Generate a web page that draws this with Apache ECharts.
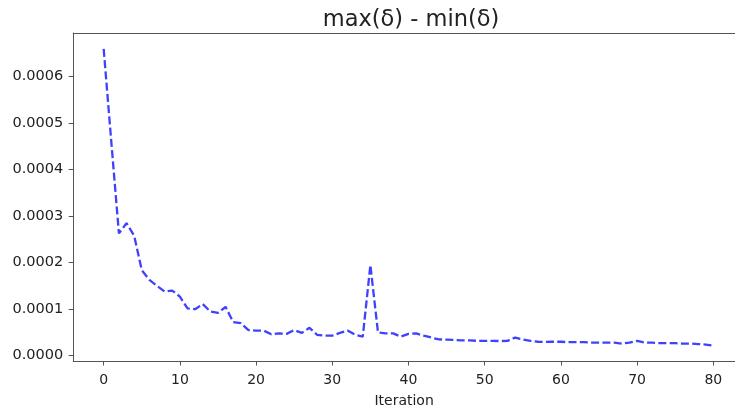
<!DOCTYPE html>
<html>
<head>
<meta charset="utf-8">
<script src="https://cdn.jsdelivr.net/npm/echarts@6/dist/echarts.min.js"></script>
<style>
html,body{margin:0;padding:0;background:#fff;}
#chart{width:735px;height:410px;}
</style>
</head>
<body>
<div id="chart"></div>
<script>
const titleText = "max(δ) - min(δ)";
const xAxisName = "Iteration";
const xTicks = [0, 10, 20, 30, 40, 50, 60, 70, 80];
const yTicks = [0, 0.0001, 0.0002, 0.0003, 0.0004, 0.0005, 0.0006];
const deltaRange = [
  0.000660, 0.000460, 0.000263, 0.000285, 0.000258, 0.000184, 0.000163, 0.000150, 0.000138, 0.000140,
  0.000127, 0.000102, 0.000100, 0.000111, 0.000095, 0.000092, 0.000105, 0.000072, 0.000070, 0.000055,
  0.000054, 0.000054, 0.000046, 0.000048, 0.000047, 0.000055, 0.000049, 0.000060, 0.000045, 0.000043,
  0.000043, 0.000049, 0.000054, 0.000045, 0.000041, 0.000195, 0.000050, 0.000048, 0.000048, 0.000041,
  0.000047, 0.000048, 0.000043, 0.000039, 0.000035, 0.0000345, 0.000034, 0.000033, 0.000033, 0.000032,
  0.000032, 0.000032, 0.0000315, 0.000032, 0.000039, 0.000035, 0.000032, 0.000030, 0.0000295, 0.000030,
  0.000030, 0.000029, 0.000029, 0.000029, 0.000028, 0.000028, 0.000028, 0.000028, 0.000026, 0.000028,
  0.000032, 0.000028, 0.000028, 0.000027, 0.000027, 0.000027, 0.000026, 0.000026, 0.000025, 0.000024,
  0.0000215
];

const chart = echarts.init(document.getElementById('chart'), null, {renderer: 'canvas'});
const font = 'DejaVu Sans';
chart.setOption({
  animation: false,
  backgroundColor: '#fff',
  title: {
    text: titleText,
    left: 406, top: 4, textAlign: 'center',
    textStyle: {fontFamily: font, fontSize: 22.5, fontWeight: 'normal', color: '#222'}
  },
  grid: {
    left: 73.2, right: 0, top: 33, bottom: 49,
    show: false, containLabel: false, outerBoundsMode: 'none'
  },
  xAxis: [{
    type: 'value', min: -4, max: 82.85,
    name: xAxisName, nameLocation: 'middle', nameGap: 33,
    nameTextStyle: {fontFamily: font, fontSize: 14, color: '#222'},
    axisLine: {show: true, onZero: false, lineStyle: {color: '#555', width: 1}},
    axisTick: {show: true, length: 4.5, customValues: xTicks, lineStyle: {color: '#555'}},
    axisLabel: {customValues: xTicks, margin: 12, fontFamily: font, fontSize: 14, color: '#222'},
    splitLine: {show: false}
  }, {
    type: 'value', min: -4, max: 82.85, position: 'top',
    axisLine: {show: true, onZero: false, lineStyle: {color: '#555', width: 1}},
    axisTick: {show: false}, axisLabel: {show: false}, splitLine: {show: false}
  }],
  yAxis: {
    type: 'value', min: -0.0000114, max: 0.000694,
    axisLine: {show: true, onZero: false, lineStyle: {color: '#555', width: 1}},
    axisTick: {show: true, length: 4.5, customValues: yTicks, lineStyle: {color: '#555'}},
    axisLabel: {customValues: yTicks, margin: 10, fontFamily: font, fontSize: 14.5, color: '#222',
      formatter: v => Number(v).toFixed(4)},
    splitLine: {show: false}
  },
  series: [{
    type: 'line',
    xAxisIndex: 0,
    data: deltaRange.map((v, i) => [i, v]),
    showSymbol: false,
    smooth: false,
    lineStyle: {color: 'rgba(0,0,255,0.75)', width: 2.3, type: [8, 3.3]}
  }]
});
</script>
</body>
</html>
